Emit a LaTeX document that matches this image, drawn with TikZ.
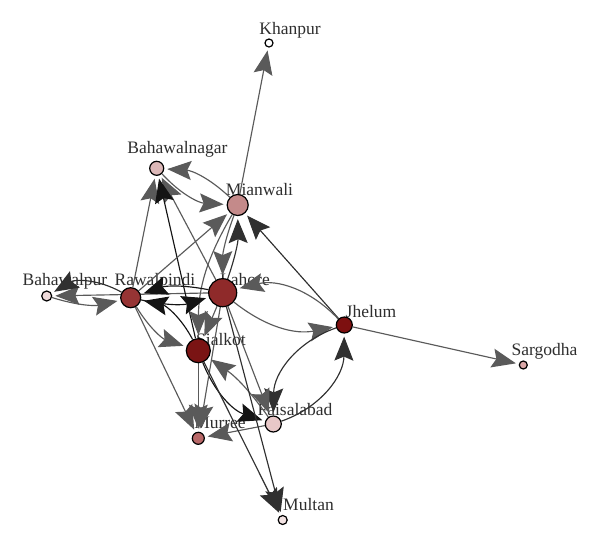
\documentclass[tikz,border=0pt]{standalone}
\usepackage{fontspec}
\setmainfont{Liberation Serif}
\usetikzlibrary{arrows.meta}
\pgfdeclarelayer{lab}
\pgfdeclarelayer{edg}
\pgfsetlayers{lab,edg,main}
\definecolor{eg}{HTML}{5A5A5A}
\definecolor{ed}{HTML}{303030}
\definecolor{eb}{HTML}{141414}
\definecolor{txt}{HTML}{2E2E2E}
\tikzset{
 city/.style={circle, draw=black, line width=1.2pt, inner sep=0pt, minimum size=#1},
 lbl/.style={anchor=base, text=txt, font=\fontsize{17.5}{20}\selectfont, inner sep=0pt},
 lk/.style={line width=1.15pt, draw=#1, -{Stealth[length=24pt,width=19pt,inset=4pt]}, shorten >=3pt},
}
\begin{document}
\begin{tikzpicture}[x=1pt,y=-1pt]
\useasboundingbox (0,0) rectangle (600,547);
% cities
\node[city=8pt,  fill=white]            (K)  at (269,43) {};
\node[city=14pt, fill={rgb,255:red,220;green,184;blue,184}] (BN) at (156.7,168.3) {};
\node[city=21pt, fill={rgb,255:red,196;green,138;blue,138}] (MI) at (237.7,205) {};
\node[city=10pt, fill={rgb,255:red,240;green,220;blue,220}] (BP) at (46.7,296) {};
\node[city=20pt, fill={rgb,255:red,150;green,52;blue,52}]   (RA) at (130.7,297.7) {};
\node[city=28pt, fill={rgb,255:red,143;green,42;blue,42}]   (LA) at (222.7,292.7) {};
\node[city=16pt, fill={rgb,255:red,125;green,16;blue,16}]   (JH) at (344.3,325) {};
\node[city=8pt,  fill={rgb,255:red,219;green,168;blue,168}] (SA) at (523.3,365) {};
\node[city=24pt, fill={rgb,255:red,122;green,20;blue,20}]   (SI) at (198.3,350.7) {};
\node[city=16pt, fill={rgb,255:red,232;green,200;blue,200}] (FA) at (273.3,424) {};
\node[city=12pt, fill={rgb,255:red,184;green,104;blue,104}] (MU) at (198.3,438.3) {};
\node[city=9pt,  fill={rgb,255:red,244;green,228;blue,228}] (ML) at (282.7,520) {};
% labels
\begin{pgfonlayer}{lab}
\node[lbl] (tK)  at (290,34)    {Khanpur};
\node[lbl] (tBN) at (177.5,153) {Bahawalnagar};
\node[lbl] (tMI) at (259.5,195) {Mianwali};
\node[lbl] (tBP) at (65,285)    {Bahawalpur};
\node[lbl] (tRA) at (155,285)   {Rawalpindi};
\node[lbl] (tLA) at (245,285)   {Lahore};
\node[lbl] (tJH) at (371,317)   {Jhelum};
\node[lbl] (tSA) at (544.5,355) {Sargodha};
\node[lbl] (tSI) at (221,345)   {Sialkot};
\node[lbl] (tFA) at (295,415)   {Faisalabad};
\node[lbl] (tMU) at (220,428)   {Murree};
\node[lbl] (tML) at (308.5,510) {Multan};
\end{pgfonlayer}
% connectors
\begin{pgfonlayer}{edg}
\draw[lk=eg] (MI) -- (K);
\draw[lk=eg] (JH) -- (SA);
\draw[lk=eg] (LA) -- (BP);
\draw[lk=ed] (RA) to[bend right=30] (BP);
\draw[lk=eg] (BP) to[bend right=15] (RA);
\draw[lk=eg] (MI) to[bend right=20] (BN);
\draw[lk=eg] (BN) to[bend right=22] (MI);
\draw[lk=eg] (RA) -- (BN);
\draw[lk=eg] (LA) -- (BN);
\draw[lk=eb] (SI) -- (BN);
\draw[lk=eg] (RA) -- (MI);
\draw[lk=ed] (LA) to[bend right=10] (MI);
\draw[lk=eg] (MI) to[bend right=10] (LA);
\draw[lk=ed] (JH) -- (MI);
\draw[lk=eg] (MI) to[bend right=15] (SI);
\draw[lk=eg] (LA) -- (SI);
\draw[lk=eb] (LA) to[bend right=15] (RA);
\draw[lk=eb] (RA) to[bend right=15] (LA);
\draw[lk=eb] (SI) to[bend right=25] (RA);
\draw[lk=eg] (RA) to[bend right=20] (SI);
\draw[lk=eg] (JH) to[bend right=30] (LA);
\draw[lk=eg] (LA) to[bend right=25] (JH);
\draw[lk=ed] (JH) to[bend right=35] (FA);
\draw[lk=ed] (FA) to[bend right=35] (JH);
\draw[lk=eg] (LA) -- (FA);
\draw[lk=eb] (SI) to[bend right=25] (FA);
\draw[lk=eg] (FA) to[bend right=10] (SI);
\draw[lk=eg] (SI) -- (MU);
\draw[lk=eg] (RA) -- (MU);
\draw[lk=eg] (LA) -- (MU);
\draw[lk=eg] (FA) -- (MU);
\draw[lk=ed] (LA) -- (ML);
\draw[lk=ed] (SI) -- (ML);
\end{pgfonlayer}
\end{tikzpicture}
\end{document}
